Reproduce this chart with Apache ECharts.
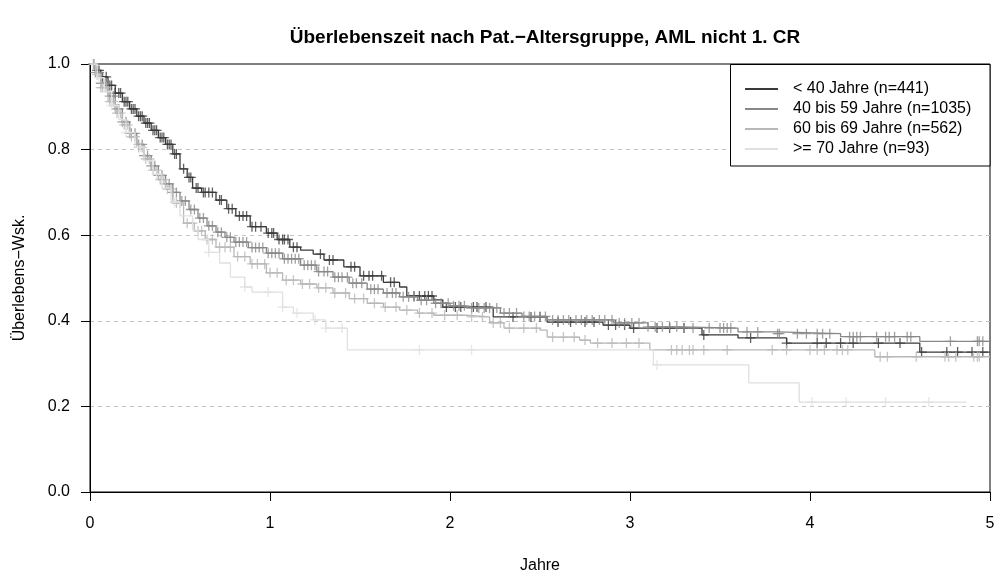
<!DOCTYPE html>
<html>
<head>
<meta charset="utf-8">
<script src="https://cdn.jsdelivr.net/npm/echarts@6/dist/echarts.min.js"></script>
<style>
  html, body { margin: 0; padding: 0; background: #fff; }
  #chart { width: 997px; height: 574px; }
</style>
</head>
<body>
<div id="chart"></div>
<script>
// group labels and colours
const groups = ['< 40 Jahre (n=441)', '40 bis 59 Jahre (n=1035)', '60 bis 69 Jahre (n=562)', '>= 70 Jahre (n=93)']
const colors = ['#3a3a3a', '#888888', '#b8b8b8', '#e0e0e0']

// step curves (years, survival)
const times1 = [0, 0.03, 0.06, 0.1, 0.14, 0.18, 0.22, 0.26, 0.3, 0.34, 0.38, 0.42, 0.46, 0.5, 0.54, 0.57, 0.62, 0.7, 0.76, 0.81, 0.89, 0.98, 1.04, 1.11, 1.17, 1.24, 1.3, 1.41, 1.5, 1.63, 1.72, 1.76, 1.91, 1.96, 2.24, 2.54, 2.85, 3.0, 3.4, 3.6, 3.87, 4.61, 5]
const surv1 = [1, 0.985, 0.97, 0.95, 0.932, 0.912, 0.895, 0.878, 0.862, 0.845, 0.828, 0.812, 0.79, 0.755, 0.735, 0.71, 0.7, 0.682, 0.662, 0.645, 0.62, 0.605, 0.59, 0.572, 0.565, 0.556, 0.542, 0.526, 0.505, 0.49, 0.479, 0.458, 0.449, 0.432, 0.409, 0.397, 0.39, 0.383, 0.367, 0.36, 0.348, 0.327, 0.327]

const times2 = [0, 0.03, 0.06, 0.1, 0.14, 0.18, 0.22, 0.26, 0.3, 0.34, 0.38, 0.42, 0.46, 0.5, 0.55, 0.6, 0.65, 0.7, 0.75, 0.8, 0.88, 0.98, 1.07, 1.17, 1.26, 1.35, 1.44, 1.54, 1.63, 1.72, 1.82, 1.91, 2.0, 2.09, 2.28, 2.4, 2.54, 2.91, 3.1, 3.28, 3.6, 3.82, 4.17, 4.61, 5]
const surv2 = [1, 0.98, 0.955, 0.925, 0.895, 0.865, 0.838, 0.812, 0.786, 0.762, 0.74, 0.72, 0.7, 0.68, 0.66, 0.64, 0.622, 0.607, 0.595, 0.584, 0.571, 0.558, 0.545, 0.53, 0.515, 0.502, 0.488, 0.474, 0.465, 0.456, 0.448, 0.441, 0.435, 0.43, 0.418, 0.41, 0.402, 0.395, 0.386, 0.383, 0.374, 0.37, 0.363, 0.352, 0.352]

const times3 = [0, 0.03, 0.06, 0.1, 0.14, 0.18, 0.22, 0.26, 0.3, 0.34, 0.38, 0.42, 0.46, 0.52, 0.58, 0.64, 0.7, 0.8, 0.89, 0.98, 1.07, 1.17, 1.26, 1.35, 1.44, 1.54, 1.63, 1.72, 1.82, 1.91, 2.09, 2.22, 2.3, 2.5, 2.54, 2.72, 2.78, 3.11, 4.36, 5]
const surv3 = [1, 0.975, 0.945, 0.912, 0.885, 0.858, 0.83, 0.805, 0.778, 0.752, 0.73, 0.708, 0.675, 0.628, 0.61, 0.59, 0.572, 0.55, 0.533, 0.512, 0.495, 0.486, 0.477, 0.465, 0.452, 0.441, 0.432, 0.425, 0.418, 0.413, 0.409, 0.395, 0.383, 0.378, 0.362, 0.355, 0.348, 0.332, 0.316, 0.316]

const times4 = [0, 0.04, 0.08, 0.12, 0.16, 0.2, 0.25, 0.3, 0.35, 0.4, 0.45, 0.5, 0.57, 0.6, 0.66, 0.72, 0.78, 0.86, 0.9, 1.07, 1.13, 1.24, 1.31, 1.43, 3.13, 3.66, 3.94, 4.87]
const surv4 = [1, 0.968, 0.935, 0.903, 0.87, 0.84, 0.806, 0.774, 0.742, 0.71, 0.677, 0.645, 0.612, 0.59, 0.56, 0.535, 0.502, 0.479, 0.467, 0.432, 0.418, 0.402, 0.383, 0.332, 0.297, 0.255, 0.21, 0.21]

// censoring times (years)
const cens1 = [0.02, 0.04, 0.05, 0.07, 0.09, 0.11, 0.12, 0.14, 0.16, 0.17, 0.19, 0.2, 0.21, 0.23, 0.24, 0.25, 0.27, 0.28, 0.29, 0.31, 0.32, 0.33, 0.35, 0.36, 0.37, 0.39, 0.4, 0.41, 0.43, 0.44, 0.45, 0.47, 0.48, 0.52, 0.55, 0.56, 0.59, 0.6, 0.63, 0.64, 0.66, 0.68, 0.72, 0.73, 0.77, 0.79, 0.83, 0.85, 0.87, 0.9, 0.92, 0.95, 0.99, 1.01, 1.02, 1.05, 1.07, 1.08, 1.1, 1.13, 1.15, 1.28, 1.33, 1.35, 1.45, 1.47, 1.52, 1.55, 1.57, 1.62, 1.67, 1.69, 1.8, 1.83, 1.86, 1.88, 1.9, 1.98, 2.03, 2.06, 2.13, 2.15, 2.2, 2.35, 2.45, 2.5, 2.6, 2.67, 2.75, 2.8, 2.88, 2.92, 2.97, 3.02, 3.15, 3.22, 3.3, 3.41, 3.67, 3.87, 4.04, 4.09, 4.17, 4.24, 4.38, 4.5, 4.62, 4.76, 4.82, 4.9, 4.96]
const cens2 = [0.02, 0.03, 0.05, 0.06, 0.08, 0.09, 0.11, 0.13, 0.15, 0.16, 0.18, 0.2, 0.22, 0.23, 0.25, 0.27, 0.29, 0.3, 0.32, 0.34, 0.36, 0.38, 0.4, 0.42, 0.44, 0.46, 0.48, 0.51, 0.53, 0.56, 0.58, 0.61, 0.63, 0.66, 0.68, 0.71, 0.73, 0.76, 0.78, 0.81, 0.83, 0.85, 0.87, 0.9, 0.92, 0.94, 0.96, 0.99, 1.01, 1.03, 1.05, 1.08, 1.1, 1.12, 1.14, 1.16, 1.19, 1.21, 1.23, 1.25, 1.27, 1.3, 1.32, 1.36, 1.38, 1.4, 1.43, 1.46, 1.48, 1.51, 1.56, 1.58, 1.6, 1.65, 1.68, 1.7, 1.74, 1.77, 1.8, 1.84, 1.87, 1.92, 1.95, 1.99, 2.02, 2.05, 2.08, 2.12, 2.16, 2.19, 2.22, 2.26, 2.3, 2.33, 2.37, 2.41, 2.44, 2.47, 2.5, 2.53, 2.57, 2.6, 2.63, 2.66, 2.7, 2.73, 2.76, 2.79, 2.83, 2.86, 2.9, 2.94, 2.97, 3.01, 3.05, 3.1, 3.14, 3.18, 3.22, 3.26, 3.3, 3.35, 3.44, 3.5, 3.52, 3.54, 3.56, 3.65, 3.71, 3.82, 3.83, 3.93, 3.98, 4.04, 4.07, 4.11, 4.22, 4.24, 4.26, 4.28, 4.37, 4.42, 4.44, 4.47, 4.54, 4.56, 4.78, 4.93, 4.94, 4.96]
const cens3 = [0.02, 0.04, 0.06, 0.07, 0.09, 0.11, 0.13, 0.15, 0.17, 0.19, 0.21, 0.23, 0.25, 0.27, 0.29, 0.31, 0.33, 0.35, 0.37, 0.39, 0.41, 0.43, 0.45, 0.48, 0.5, 0.54, 0.57, 0.6, 0.62, 0.65, 0.68, 0.72, 0.75, 0.78, 0.82, 0.86, 0.9, 0.93, 0.97, 1.0, 1.04, 1.09, 1.13, 1.18, 1.22, 1.27, 1.31, 1.36, 1.42, 1.47, 1.52, 1.58, 1.64, 1.7, 1.76, 1.83, 1.9, 1.97, 2.04, 2.12, 2.18, 2.24, 2.28, 2.33, 2.41, 2.48, 2.57, 2.63, 2.69, 2.75, 2.82, 2.9, 2.98, 3.05, 3.23, 3.26, 3.29, 3.33, 3.35, 3.41, 3.54, 3.79, 3.87, 4.0, 4.04, 4.08, 4.15, 4.18, 4.21, 4.39, 4.43, 4.59, 4.75, 4.77, 4.81, 4.91, 4.93, 4.94]
const cens4 = [0.05, 0.12, 0.2, 0.28, 0.37, 0.47, 0.66, 0.86, 0.99, 1.07, 1.15, 1.25, 1.31, 1.4, 1.83, 2.12, 3.15, 4.01, 4.2, 4.42, 4.66]

// x/y ticks
const xTicks = [0, 1, 2, 3, 4, 5]
const yTicks = [0, 0.2, 0.4, 0.6, 0.8, 1.0]

const curves = [
  { times: times1, surv: surv1, cens: cens1 },
  { times: times2, surv: surv2, cens: cens2 },
  { times: times3, surv: surv3, cens: cens3 },
  { times: times4, surv: surv4, cens: cens4 },
]

const stepAt = (times, surv, t) => {
  let s = surv[0]
  for (let i = 0; i < times.length; i += 1) {
    if (times[i] <= t) s = surv[i]
  }
  return s
}

const font = 'Liberation Sans, Arial, Helvetica, sans-serif'
const plus = 'path://M5,0L5,10M0,5L10,5'

const series = []
curves.forEach((c, i) => {
  series.push({
    name: groups[i],
    type: 'line',
    step: 'end',
    showSymbol: false,
    data: c.times.map((t, k) => [t, c.surv[k]]),
    lineStyle: { color: colors[i], width: 1.3 },
    itemStyle: { color: colors[i] },
    z: 2 + i,
  })
})
curves.forEach((c, i) => {
  series.push({
    name: groups[i] + ' zensiert',
    type: 'scatter',
    symbol: plus,
    symbolSize: 10,
    data: c.cens.map((t) => [t, stepAt(c.times, c.surv, t)]),
    itemStyle: { color: 'transparent', borderColor: colors[i], borderWidth: 1.3 },
    z: 2 + i,
  })
})

const chart = echarts.init(document.getElementById('chart'), null, { renderer: 'canvas' })
chart.setOption({
  animation: false,
  backgroundColor: '#fff',
  textStyle: { fontFamily: font, color: '#000' },
  title: {
    text: 'Überlebenszeit nach Pat.\u2212Altersgruppe, AML nicht 1. CR',
    left: 540,
    top: 23,
    textAlign: 'center',
    textStyle: { fontFamily: font, fontSize: 19, fontWeight: 'bold', color: '#000' },
  },
  grid: {
    left: 90,
    top: 64,
    right: 7,
    bottom: 82,
    show: true,
    containLabel: false,
    outerBoundsMode: 'none',
    borderColor: '#000',
    borderWidth: 1,
    backgroundColor: 'transparent',
  },
  legend: {
    data: groups,
    orient: 'vertical',
    left: 745,
    top: 79,
    padding: 0,
    itemGap: 0,
    itemWidth: 33,
    itemHeight: 2,
    icon: 'rect',
    z: 10,
    selectedMode: false,
    textStyle: { fontFamily: font, fontSize: 16, lineHeight: 20, color: '#000', padding: [0, 0, 0, 10] },
  },
  graphic: [
    {
      type: 'rect',
      z: 5,
      shape: { x: 730.5, y: 64.5, width: 259.5, height: 101.5 },
      style: { fill: '#fff', stroke: '#000', lineWidth: 1 },
    },
  ],
  xAxis: {
    type: 'value',
    min: xTicks[0],
    max: xTicks[xTicks.length - 1],
    interval: 1,
    name: 'Jahre',
    nameLocation: 'middle',
    nameGap: 66,
    nameTextStyle: { fontFamily: font, fontSize: 16, color: '#000' },
    axisLine: { show: true, lineStyle: { color: '#000', width: 1 } },
    axisTick: { show: true, length: 9, lineStyle: { color: '#000' } },
    axisLabel: { fontFamily: font, fontSize: 16, color: '#000', margin: 24 },
    splitLine: { show: false },
  },
  yAxis: {
    type: 'value',
    min: yTicks[0],
    max: yTicks[yTicks.length - 1],
    interval: 0.2,
    name: 'Überlebens\u2212Wsk.',
    nameLocation: 'middle',
    nameGap: 62,
    nameRotate: 90,
    nameTextStyle: { fontFamily: font, fontSize: 16, color: '#000' },
    axisLine: { show: true, lineStyle: { color: '#000', width: 1 } },
    axisTick: { show: true, length: 9, lineStyle: { color: '#000' } },
    axisLabel: { fontFamily: font, fontSize: 16, color: '#000', margin: 20, formatter: (v) => v.toFixed(1) },
    splitLine: { show: true, showMinLine: false, showMaxLine: false, lineStyle: { type: [4, 4], color: '#c4c4c4', width: 1 } },
  },
  series,
})
</script>
</body>
</html>
